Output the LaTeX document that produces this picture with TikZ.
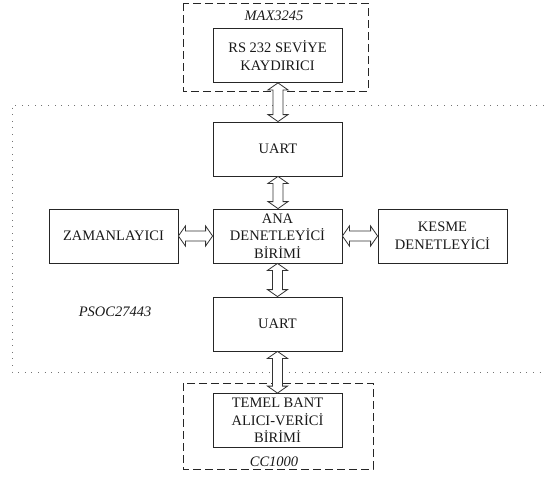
\documentclass[tikz,border=0pt]{standalone}
\usepackage{fontspec}
\setmainfont{Liberation Serif}
\usetikzlibrary{calc}
\begin{document}
\begin{tikzpicture}[x=1pt,y=-1pt,
  block/.style={draw=black!85,line width=0.8pt,minimum width=129pt,minimum height=54pt,
    inner sep=0pt,align=center,font=\fontsize{14.5}{17.5}\selectfont,text=black!90},
  chip/.style={draw=black!85,line width=0.9pt,dash pattern=on 8pt off 4pt},
  board/.style={draw=black!55,line width=1pt,dash pattern=on 1pt off 5.6pt},
  tag/.style={font=\fontsize{14.5}{16}\selectfont\itshape,text=black!90,inner sep=0pt},
  biarrow/.style={draw=black!80,line width=0.8pt,fill=white,line join=miter}]
\useasboundingbox (0,0) rectangle (544,477);

% PSoC board outline (open to the right)
\draw[board] (544,105) -- (12,105) -- (12,372) -- (544,372);

% chip outlines
\draw[chip] (183,3) rectangle (368,91);
\draw[chip] (183,383) rectangle (373,469);

% functional blocks
\node[block] (rs)    at (277.5,55.5) {RS 232 SEVİYE\\KAYDIRICI};
\node[block] (uart1) at (278,149)    {UART};
\node[block] (ana)   at (277.5,236)  {ANA\\DENETLEYİCİ\\BİRİMİ};
\node[block] (zam)   at (113.5,236)  {ZAMANLAYICI};
\node[block] (kesme) at (442.5,236)  {KESME\\DENETLEYİCİ};
\node[block] (uart2) at (277.5,324)  {UART};
\node[block] (temel) at (277.5,420.5) {TEMEL BANT\\ALICI-VERİCİ\\BİRİMİ};

% labels
\node[tag] (lmax)  at (274,16)  {MAX3245};
\node[tag] (lpsoc) at (115,312) {PSOC27443};
\node[tag,anchor=base] (lcc) at (274,466) {CC1000};

% hollow double-headed bus arrows
\newcommand\vbus[2]{%
  \path[biarrow] let \p1=(#1), \p2=(#2) in
    (\x1,\y1) -- (\x1+10pt,\y1-7pt) -- (\x1+5pt,\y1-7pt) -- (\x1+5pt,\y2+7pt)
    -- (\x1+10pt,\y2+7pt) -- (\x1,\y2) -- (\x1-10pt,\y2+7pt) -- (\x1-5pt,\y2+7pt)
    -- (\x1-5pt,\y1-7pt) -- (\x1-10pt,\y1-7pt) -- cycle;}
\newcommand\hbus[2]{%
  \path[biarrow] let \p1=(#1), \p2=(#2) in
    (\x1,\y1) -- (\x1+7pt,\y1+10pt) -- (\x1+7pt,\y1+5pt) -- (\x2-7pt,\y1+5pt)
    -- (\x2-7pt,\y1+10pt) -- (\x2,\y1) -- (\x2-7pt,\y1-10pt) -- (\x2-7pt,\y1-5pt)
    -- (\x1+7pt,\y1-5pt) -- (\x1+7pt,\y1-10pt) -- cycle;}

\coordinate (rsb) at (rs.south -| uart1.north);
\vbus{rsb}{uart1.north}
\vbus{uart1.south}{ana.north}
\vbus{ana.south}{uart2.north}
\vbus{uart2.south}{temel.north}
\hbus{zam.east}{ana.west}
\hbus{ana.east}{kesme.west}
\end{tikzpicture}
\end{document}
